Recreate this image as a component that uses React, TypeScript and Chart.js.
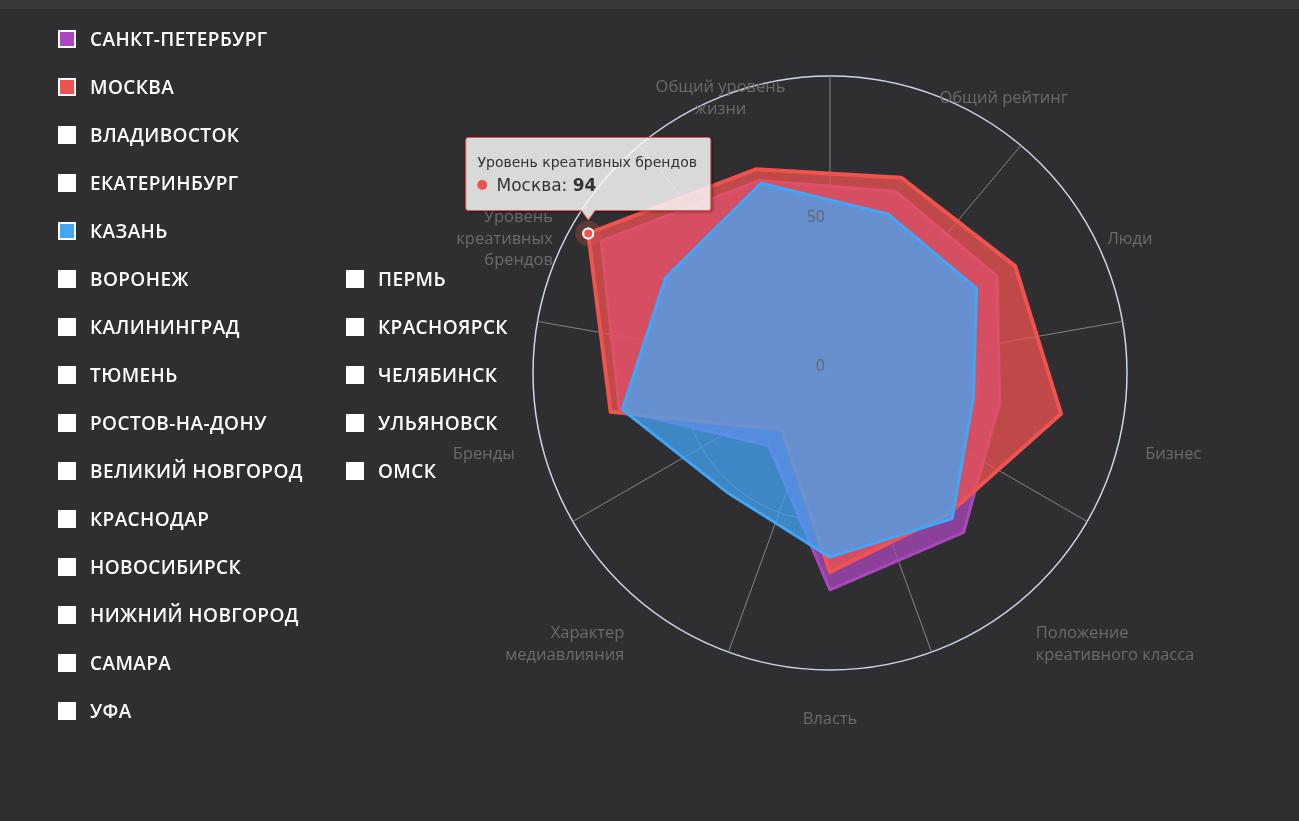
import React, { useEffect, useRef, useState } from "react";
import { Chart, registerables } from "chart.js";

Chart.register(...registerables);

// ---------- data ----------
const categories = [
  "Общий рейтинг",
  "Люди",
  "Бизнес",
  "Положение креативного класса",
  "Власть",
  "Характер медиавлияния",
  "Бренды",
  "Уровень креативных брендов",
  "Общий уровень жизни",
];
const categoryLines = [
  ["Общий рейтинг"],
  ["Люди"],
  ["Бизнес"],
  ["Положение", "креативного класса"],
  ["Власть"],
  ["Характер", "медиавлияния"],
  ["Бренды"],
  ["Уровень", "креативных", "брендов"],
  ["Общий уровень", "жизни"],
];
const tickValues = [0, 50];
const spbValues = [65, 65, 58, 70, 73, 32, 72, 89, 69];
const moscowValues = [70, 72, 79, 62, 67, 25, 75, 94, 73];
const kazanValues = [57, 57, 49, 64, 62, 53, 71, 64, 68];
const cities = [
  "Санкт-Петербург",
  "Москва",
  "Владивосток",
  "Екатеринбург",
  "Казань",
  "Воронеж",
  "Калининград",
  "Тюмень",
  "Ростов-на-Дону",
  "Великий Новгород",
  "Краснодар",
  "Новосибирск",
  "Нижний Новгород",
  "Самара",
  "Уфа",
  "Пермь",
  "Красноярск",
  "Челябинск",
  "Ульяновск",
  "Омск",
];
const cityColors: Record<string, string> = {
  "Санкт-Петербург": "#ab47bc",
  "Москва": "#ef5350",
  "Казань": "#42a5f5",
};
const activeSeries = 1;
const activeCategory = 7;

const radarDecor = {
  id: "radarDecor",
  beforeDatasetsDraw(chart: any) {
    const s: any = chart.scales.r;
    const ctx = chart.ctx;
    const n = chart.data.labels.length;
    ctx.save();
    ctx.strokeStyle = "#858587";
    ctx.lineWidth = 1;
    for (let i = 0; i < n; i++) {
      const p = s.getPointPosition(i - 0.5, s.drawingArea);
      ctx.beginPath();
      ctx.moveTo(s.xCenter, s.yCenter);
      ctx.lineTo(p.x, p.y);
      ctx.stroke();
    }
    ctx.font = '16.5px "Open Sans"';
    ctx.fillStyle = "#6b6b6b";
    ctx.textBaseline = "middle";
    const lh = 21.5;
    categoryLines.forEach((lines, i) => {
      const deg = Math.round((s.getIndexAngle(i) * 180) / Math.PI) % 360;
      const p = s.getPointPosition(i, s.drawingArea + 23);
      const align = deg >= 20 && deg < 160 ? "left" : deg > 200 && deg < 340 ? "right" : "center";
      ctx.textAlign = align;
      const cy = p.y + 26;
      lines.forEach((ln, j) => ctx.fillText(ln, p.x, cy + (j - (lines.length - 1) / 2) * lh));
    });
    ctx.restore();
  },
  afterDatasetsDraw(chart: any) {
    const s: any = chart.scales.r;
    const ctx = chart.ctx;
    ctx.save();
    ctx.font = '16px "Open Sans"';
    ctx.fillStyle = "#666";
    ctx.textAlign = "right";
    ctx.textBaseline = "middle";
    tickValues.forEach((v) => {
      ctx.fillText(String(v), s.xCenter - 5, s.yCenter - s.getDistanceFromCenterForValue(v) - 7);
    });
    chart.getActiveElements().forEach((a: any) => {
      const el = chart.getDatasetMeta(a.datasetIndex).data[a.index];
      ctx.beginPath();
      ctx.arc(el.x, el.y, 13, 0, Math.PI * 2);
      ctx.fillStyle = "rgba(239,83,80,0.25)";
      ctx.fill();
      el.draw(ctx, chart.chartArea);
    });
    ctx.restore();
  },
};

function makeDataset(label: string, values: number[], color: string, rgb: string, order: number, width: number) {
  return {
    label,
    data: values,
    borderColor: color,
    backgroundColor: `rgba(${rgb},0.75)`,
    borderWidth: width,
    fill: true,
    order,
    pointRadius: 0,
    pointHitRadius: 6,
    pointHoverRadius: 5,
    pointHoverBorderWidth: 2,
    pointHoverBorderColor: "#ffffff",
    pointHoverBackgroundColor: color,
    pointBackgroundColor: color,
  };
}

export default function App() {
  const canvasRef = useRef<HTMLCanvasElement>(null);
  const [tip, setTip] = useState<any>(null);

  useEffect(() => {
    document.body.style.margin = "0";
    document.body.style.background = "#2f2f31";
    document.body.style.overflow = "hidden";
    const chart = new Chart(canvasRef.current as HTMLCanvasElement, {
      type: "radar",
      data: {
        labels: categories,
        datasets: [
          makeDataset("Санкт-Петербург", spbValues, "#ab47bc", "171,71,188", 2, 3),
          makeDataset("Москва", moscowValues, "#ef5350", "239,83,80", 1, 4),
          makeDataset("Казань", kazanValues, "#42a5f5", "66,165,245", 0, 3),
        ],
      } as any,
      options: {
        responsive: false,
        animation: false,
        events: [],
        layout: { padding: { left: 533, right: 172, top: 76, bottom: 151 } },
        elements: { line: { tension: 0, borderJoinStyle: "round" } },
        scales: {
          r: {
            min: 0,
            max: 100,
            startAngle: 20,
            ticks: { display: false, stepSize: 50 },
            angleLines: { display: false },
            pointLabels: { display: false },
            grid: {
              circular: true,
              color: (c: any) => (c.index === 2 ? "#ccd6eb" : "#7a7a7d"),
              lineWidth: (c: any) => (c.index === 2 ? 1.5 : 1),
            },
          },
        },
        plugins: {
          legend: { display: false },
          tooltip: {
            enabled: false,
            yAlign: "bottom",
            external: (ctx: any) => {
              const tt = ctx.tooltip;
              if (!tt || tt.opacity === 0 || !tt.dataPoints || !tt.dataPoints.length) {
                setTip(null);
                return;
              }
              const dp = tt.dataPoints[0];
              setTip({
                x: tt.caretX,
                y: tt.caretY,
                title: tt.title[0],
                series: dp.dataset.label,
                value: dp.formattedValue,
                color: dp.dataset.borderColor,
              });
            },
          },
        },
      } as any,
      plugins: [radarDecor],
    });
    const act = [{ datasetIndex: activeSeries, index: activeCategory }];
    chart.setActiveElements(act);
    chart.update();
    (chart.tooltip as any).setActiveElements(act, { x: 0, y: 0 });
    return () => chart.destroy();
  }, []);

  return (
    <div style={{ position: "relative", width: 1299, height: 821, background: "#2f2f31", overflow: "hidden" }}>
      <div style={{ position: "absolute", left: 0, top: 0, width: "100%", height: 9, background: "#39393b" }} />
      <canvas ref={canvasRef} width={1299} height={821} style={{ position: "absolute", left: 0, top: 0, display: "block" }} />
      {cities.map((c, i) => {
        const col = i < 15 ? 0 : 1;
        const row = i < 15 ? i : i - 10;
        const left = col === 0 ? 58 : 346;
        const centerY = 39 + row * 48;
        return (
          <div
            key={c}
            style={{ position: "absolute", left, top: centerY - 11, height: 22, display: "flex", alignItems: "center", whiteSpace: "nowrap" }}
          >
            <span style={{ display: "inline-block", width: 14, height: 14, border: "2px solid #fff", background: cityColors[c] || "#fff" }} />
            <span
              style={{
                marginLeft: 14,
                color: "#fff",
                fontFamily: '"Open Sans", sans-serif',
                fontWeight: 600,
                fontSize: 19,
                letterSpacing: 0.4,
                lineHeight: "22px",
              }}
            >
              {c.toUpperCase()}
            </span>
          </div>
        );
      })}
      {tip && (
        <div
          style={{
            position: "absolute",
            left: tip.x,
            top: tip.y - 22,
            transform: "translate(-50%, -100%)",
            background: "rgba(247,247,247,0.85)",
            border: `1px solid ${tip.color}`,
            borderRadius: 3,
            padding: "15px 13px 14px 11px",
            boxShadow: "1px 1px 3px rgba(0,0,0,0.35)",
            fontFamily: '"DejaVu Sans", sans-serif',
            color: "#333",
            whiteSpace: "nowrap",
            pointerEvents: "none",
          }}
        >
          <div style={{ fontSize: 14, lineHeight: "18px" }}>{tip.title}</div>
          <div style={{ fontSize: 17, lineHeight: "22px", marginTop: 3, display: "flex", alignItems: "center" }}>
            <span style={{ display: "inline-block", width: 10, height: 10, borderRadius: "50%", background: tip.color, marginRight: 9 }} />
            <span>
              {tip.series}: <b>{tip.value}</b>
            </span>
          </div>
          <svg width={14} height={11} style={{ position: "absolute", left: "50%", bottom: -11, marginLeft: -7, overflow: "visible" }}>
            <polygon points="0,0 14,0 7,10" fill="#d9d9d9" />
            <polyline points="0,0.5 7,10 14,0.5" fill="none" stroke={tip.color} strokeWidth={1} />
          </svg>
        </div>
      )}
    </div>
  );
}
